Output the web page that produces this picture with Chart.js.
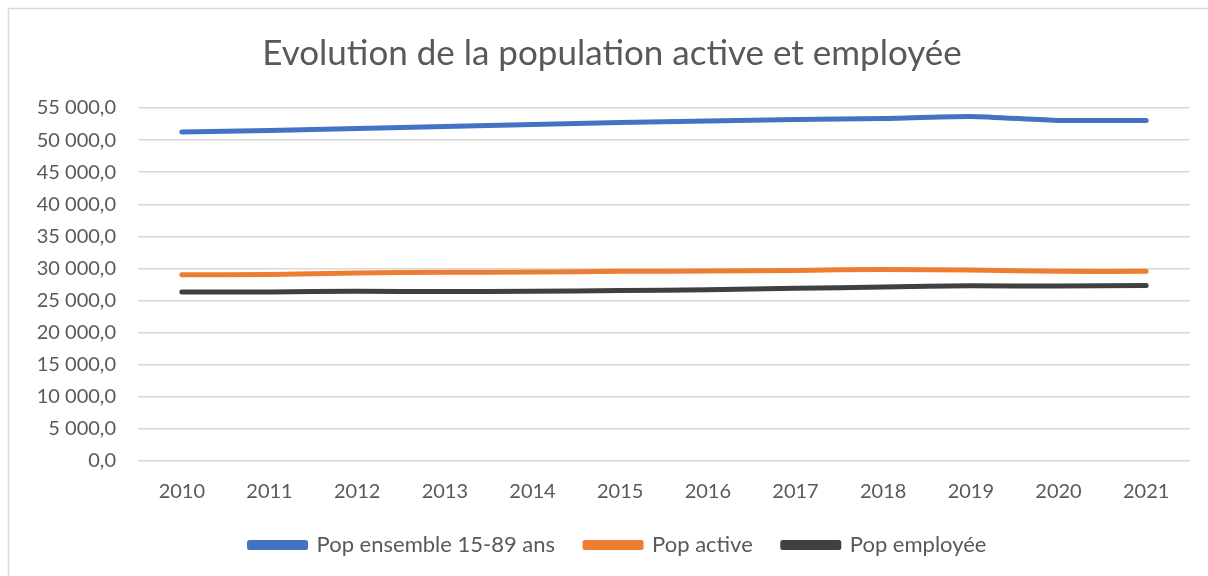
<!DOCTYPE html>
<html>
<head>
<meta charset="utf-8">
<script src="https://cdn.jsdelivr.net/npm/chart.js@4.4.1/dist/chart.umd.min.js"></script>
<style>
  html, body { margin: 0; padding: 0; background: #fff; }
  #wrap { width: 1208px; height: 576px; position: relative; }
</style>
</head>
<body>
<div id="wrap"><canvas id="popChart"></canvas></div>
<script>
// Data
const years = ['2010', '2011', '2012', '2013', '2014', '2015', '2016', '2017', '2018', '2019', '2020', '2021'];
const popEnsemble = [51270, 51500, 51820, 52130, 52440, 52750, 52990, 53220, 53380, 53690, 53060, 53060];
const popActive = [29000, 29050, 29300, 29400, 29450, 29550, 29600, 29700, 29850, 29750, 29550, 29550];
const popEmployee = [26350, 26350, 26450, 26400, 26450, 26550, 26700, 26900, 27100, 27300, 27250, 27350];

const FONT = "Lato, 'Open Sans', sans-serif";
const TEXT = '#595959';

// French style: "55 000,0"
function formatTick(value) {
    const whole = Math.round(value).toString().replace(/\B(?=(\d{3})+(?!\d))/g, ' ');
    return whole + ',0';
}

// Light grey frame on the left and top, as in the source
const frame = {
    id: 'frame',
    beforeDraw: (chart) => {
        const ctx = chart.ctx;
        ctx.save();
        ctx.strokeStyle = '#d9d9d9';
        ctx.lineWidth = 1.5;
        ctx.beginPath();
        ctx.moveTo(8.5, chart.height);
        ctx.lineTo(8.5, 8.5);
        ctx.lineTo(chart.width, 8.5);
        ctx.stroke();
        ctx.restore();
    }
};

// Nudge title and legend boxes after layout so they sit like the source
const nudge = {
    id: 'nudge',
    afterLayout: (chart) => {
        const lg = chart.legend;
        lg.top -= 19;
        lg.bottom -= 19;
        lg.left += 18;
        lg.right += 18;
        const t = chart.titleBlock;
        if (t) {
            t.left += 24;
        }
    }
};

const ctx = document.getElementById('popChart').getContext('2d');

const chart = new Chart(ctx, {
    type: 'line',
    data: {
        labels: years,
        datasets: [
            {
                label: 'Pop ensemble 15-89 ans',
                data: popEnsemble,
                borderColor: '#4472C4',
                backgroundColor: '#4472C4'
            },
            {
                label: 'Pop active',
                data: popActive,
                borderColor: '#ED7D31',
                backgroundColor: '#ED7D31'
            },
            {
                label: 'Pop employée',
                data: popEmployee,
                borderColor: '#404040',
                backgroundColor: '#404040'
            }
        ]
    },
    options: {
        responsive: true,
        maintainAspectRatio: false,
        animation: false,
        layout: {
            padding: { left: 10, right: 18, top: 0, bottom: -9 }
        },
        elements: {
            point: { radius: 0 },
            line: { borderWidth: 5, tension: 0.2, borderCapStyle: 'round', borderJoinStyle: 'round' }
        },
        plugins: {
            tooltip: { enabled: false },
            title: {
                display: true,
                text: 'Evolution de la population active et employée',
                color: TEXT,
                padding: { top: 33, bottom: 33 },
                font: { size: 35, weight: 'normal', family: FONT }
            },
            legend: {
                position: 'bottom',
                labels: {
                    color: TEXT,
                    boxWidth: 56,
                    boxHeight: 5,
                    padding: 30,
                    font: { size: 22, family: FONT }
                }
            }
        },
        scales: {
            x: {
                offset: true,
                grid: { display: false, drawTicks: false },
                border: { display: false },
                ticks: {
                    color: TEXT,
                    padding: 19,
                    maxRotation: 0,
                    font: { size: 20, family: FONT }
                }
            },
            y: {
                min: 0,
                max: 55000,
                afterFit: (scale) => { scale.width = 128; },
                grid: { color: '#d9d9d9', lineWidth: 1.5, drawTicks: false },
                border: { display: false },
                ticks: {
                    stepSize: 5000,
                    color: TEXT,
                    padding: 22,
                    font: { size: 20, family: FONT },
                    callback: (value) => formatTick(value)
                }
            }
        }
    },
    plugins: [frame, nudge]
});
</script>
</body>
</html>
